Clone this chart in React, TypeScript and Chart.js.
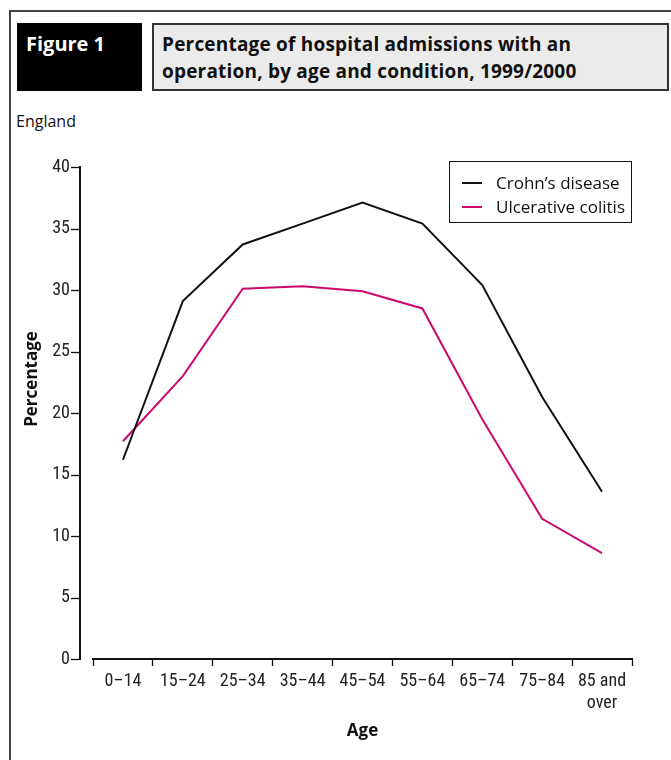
import React, { useEffect, useRef } from 'react';
import { Chart, registerables } from 'chart.js';

Chart.register(...registerables);

const categories: (string | string[])[] = ['0–14', '15–24', '25–34', '35–44', '45–54', '55–64', '65–74', '75–84', ['85 and', 'over']];
const crohns = [16.2, 29.1, 33.7, 35.4, 37.1, 35.4, 30.4, 21.3, 13.6];
const colitis = [17.7, 23.0, 30.1, 30.3, 29.9, 28.5, 19.5, 11.4, 8.6];
const seriesNames = ['Crohn’s disease', 'Ulcerative colitis'];
const seriesColors = ['#111111', '#cc0a6e'];
const yMin = 0;
const yMax = 40;
const yStep = 5;

const NARROW = "'Liberation Sans Narrow', 'Arial Narrow', 'Roboto Condensed', Roboto, sans-serif";
const HEAD = "'Open Sans', Lato, sans-serif";

const axesPlugin = {
  id: 'customAxes',
  afterDraw(chart: any) {
    const ctx = chart.ctx;
    const area = chart.chartArea;
    const y = chart.scales.y;
    const ax = area.left - 13;
    ctx.save();
    ctx.strokeStyle = '#111';
    ctx.lineWidth = 2;
    ctx.beginPath();
    ctx.moveTo(ax, y.getPixelForValue(yMax) - 1);
    ctx.lineTo(ax, y.getPixelForValue(yMin) + 1);
    ctx.stroke();
    ctx.lineWidth = 1.3;
    for (let v = yMin; v <= yMax; v += yStep) {
      const py = Math.round(y.getPixelForValue(v)) + 0.5;
      ctx.beginPath();
      ctx.moveTo(ax - 9, py);
      ctx.lineTo(ax, py);
      ctx.stroke();
    }
    // y title
    ctx.translate(32, area.top + 212);
    ctx.rotate(-Math.PI / 2);
    ctx.fillStyle = '#111';
    ctx.font = `bold 17px ${HEAD}`;
    ctx.textAlign = 'center';
    ctx.textBaseline = 'middle';
    ctx.fillText('Percentage', 0, 0);
    ctx.restore();

    // legend
    ctx.save();
    const lx = area.right - 183;
    const ly = area.top - 6;
    ctx.strokeStyle = '#111';
    ctx.lineWidth = 1;
    ctx.strokeRect(lx + 0.5, ly + 0.5, 182, 61);
    ctx.font = `17px ${HEAD}`;
    ctx.textBaseline = 'middle';
    ctx.textAlign = 'left';
    chart.data.datasets.forEach((ds: any, i: number) => {
      const ry = ly + 22 + i * 24;
      ctx.strokeStyle = ds.borderColor;
      ctx.lineWidth = 2;
      ctx.beginPath();
      ctx.moveTo(lx + 13, ry);
      ctx.lineTo(lx + 33, ry);
      ctx.stroke();
      ctx.fillStyle = '#111';
      ctx.fillText(ds.label, lx + 47, ry + 1);
    });
    ctx.restore();
  },
};

function ChartCanvas() {
  const ref = useRef<HTMLCanvasElement | null>(null);
  useEffect(() => {
    if (!ref.current) return;
    const chart = new Chart(ref.current, {
      type: 'line',
      data: {
        labels: categories as any,
        datasets: [
          { label: seriesNames[0], data: crohns, borderColor: seriesColors[0], backgroundColor: seriesColors[0], borderWidth: 2, pointRadius: 0, tension: 0 },
          { label: seriesNames[1], data: colitis, borderColor: seriesColors[1], backgroundColor: seriesColors[1], borderWidth: 2, pointRadius: 0, tension: 0 },
        ],
      },
      options: {
        animation: false,
        responsive: false,
        devicePixelRatio: 1,
        layout: { padding: { top: 37, right: 39, left: 0, bottom: 0 } },
        plugins: { legend: { display: false }, tooltip: { enabled: false }, title: { display: false } },
        scales: {
          x: {
            type: 'category',
            offset: true,
            afterFit: (s: any) => { s.height = 101; },
            border: { display: true, color: '#111', width: 2 },
            grid: { display: true, offset: true, drawOnChartArea: false, drawTicks: true, tickLength: 7, tickColor: '#111', tickWidth: 1.3 } as any,
            ticks: { color: '#222', font: { family: NARROW, size: 18 }, padding: 5, maxRotation: 0, minRotation: 0, autoSkip: false },
            title: { display: true, text: 'Age', color: '#111', font: { family: HEAD, size: 17, weight: 'bold' }, padding: { top: 4, bottom: 19 } },
          },
          y: {
            min: yMin,
            max: yMax,
            afterFit: (s: any) => { s.width = 93; },
            border: { display: false },
            grid: { display: true, drawOnChartArea: false, drawTicks: true, tickLength: 13, tickColor: 'transparent' } as any,
            ticks: { stepSize: yStep, color: '#222', font: { family: NARROW, size: 18 }, padding: 10 },
          },
        },
      },
      plugins: [axesPlugin],
    } as any);
    return () => chart.destroy();
  }, []);
  return <canvas ref={ref} width={671} height={630} style={{ display: 'block', position: 'absolute', left: 0, top: 130 }} />;
}

export default function App() {
  return (
    <div style={{ position: 'absolute', left: 0, top: 0, width: 671, height: 760, overflow: 'hidden', background: '#fff' }}>
      <div style={{ position: 'absolute', left: 9, top: 10, width: 720, height: 800, borderLeft: '2px solid #444', borderTop: '2px solid #444' }} />
      <div style={{ position: 'absolute', left: 17, top: 23, width: 125, height: 68, background: '#000', color: '#fff', fontFamily: HEAD, fontWeight: 'bold', fontSize: 20, boxSizing: 'border-box', padding: '8px 0 0 9px', lineHeight: '26px' }}>
        Figure 1
      </div>
      <div style={{ position: 'absolute', left: 152, top: 23, width: 517, height: 68, background: '#ebebeb', border: '2px solid #333', boxSizing: 'border-box', fontFamily: HEAD, fontWeight: 'bold', fontSize: 19, color: '#111', lineHeight: '27px', padding: '6px 0 0 8px', letterSpacing: '0.2px' }}>
        Percentage of hospital admissions with an<br />operation, by age and condition, 1999/2000
      </div>
      <div style={{ position: 'absolute', left: 16, top: 110, fontFamily: HEAD, fontSize: 16, color: '#111' }}>England</div>
      <ChartCanvas />
    </div>
  );
}
